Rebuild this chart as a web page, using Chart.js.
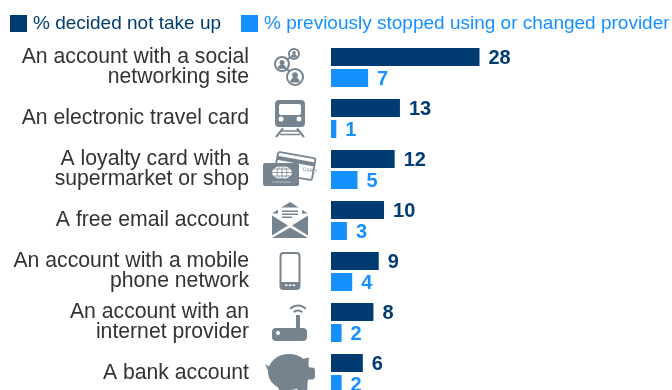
<!DOCTYPE html>
<html>
<head>
<meta charset="utf-8">
<script src="https://cdn.jsdelivr.net/npm/chart.js@4"></script>
<style>
  html, body { margin: 0; padding: 0; background: #fff; overflow: hidden; height: 390px; }
  canvas { display: block; }
</style>
</head>
<body>
<canvas id="chart" width="672" height="399" style="width:672px;height:399px"></canvas>
<script>
const categories = [
  ["An account with a social", "networking site"],
  "An electronic travel card",
  ["A loyalty card with a", "supermarket or shop"],
  "A free email account",
  ["An account with a mobile", "phone network"],
  ["An account with an", "internet provider"],
  "A bank account"
];
const declined = [28, 13, 12, 10, 9, 8, 6];
const stopped = [7, 1, 5, 3, 4, 2, 2];

const DARK = "#003c71";
const LIGHT = "#1490ff";
const GREY = "#76848f";

// value labels next to each bar
const valueLabels = {
  id: "valueLabels",
  afterDatasetsDraw(chart) {
    let ctx = chart.ctx;
    ctx.save();
    ctx.font = "bold 20px 'Liberation Sans'";
    ctx.textBaseline = "middle";
    chart.data.datasets.forEach((ds, i) => {
      ctx.fillStyle = ds.backgroundColor;
      chart.getDatasetMeta(i).data.forEach((bar, j) => {
        ctx.fillText(ds.data[j], bar.x + 9, bar.y + 1);
      });
    });
    ctx.restore();
  }
};

// legend sits at fixed spots, the built-in one can't space it like this
const legendBoxX = [10, 241];
const legendRow = {
  id: "legendRow",
  afterDraw(chart) {
    let ctx = chart.ctx;
    ctx.save();
    ctx.font = "19px 'Liberation Sans'";
    ctx.textBaseline = "middle";
    chart.data.datasets.forEach((ds, i) => {
      ctx.fillStyle = ds.backgroundColor;
      ctx.fillRect(legendBoxX[i], 15, 17, 17);
      ctx.fillText(ds.label, legendBoxX[i] + 23, 23.5);
    });
    ctx.restore();
  }
};

function person(ctx, x, y, r) {
  ctx.fillStyle = "#fff";
  ctx.beginPath();
  ctx.arc(x, y, r, 0, Math.PI * 2);
  ctx.fill();
  ctx.lineWidth = 2;
  ctx.stroke();
  ctx.fillStyle = GREY;
  ctx.beginPath();
  ctx.arc(x, y - r * 0.22, r * 0.36, 0, Math.PI * 2);
  ctx.fill();
  ctx.beginPath();
  ctx.arc(x, y + r * 0.68, r * 0.62, Math.PI, 0);
  ctx.fill();
}

function drawSocial(ctx) {
  ctx.lineWidth = 2;
  ctx.beginPath();
  ctx.moveTo(-8, -3.5);
  ctx.lineTo(4, -13.5);
  ctx.moveTo(-8, -3.5);
  ctx.lineTo(5, 9.5);
  ctx.stroke();
  person(ctx, -8, -3.5, 7);
  person(ctx, 5, 9.5, 8);
  person(ctx, 4, -13.5, 5);
}

function drawTrain(ctx) {
  ctx.beginPath();
  ctx.roundRect(-15, -18.5, 30, 27, 4);
  ctx.fill();
  ctx.fillStyle = "#fff";
  ctx.beginPath();
  ctx.roundRect(-11, -14.5, 22, 11, 2);
  ctx.fill();
  ctx.beginPath(); ctx.arc(-9, 0.5, 2.5, 0, Math.PI * 2); ctx.fill();
  ctx.beginPath(); ctx.arc(9, 0.5, 2.5, 0, Math.PI * 2); ctx.fill();
  ctx.lineWidth = 2;
  ctx.beginPath();
  ctx.moveTo(-7, 10); ctx.lineTo(-14, 18.5);
  ctx.moveTo(7, 10); ctx.lineTo(14, 18.5);
  ctx.stroke();
  ctx.lineWidth = 1.3;
  ctx.beginPath();
  ctx.moveTo(-8, 12.5); ctx.lineTo(8, 12.5);
  ctx.moveTo(-10, 16); ctx.lineTo(10, 16);
  ctx.stroke();
}

function drawCards(ctx) {
  // back card
  ctx.save();
  ctx.translate(5, -3.5);
  ctx.rotate(0.18);
  ctx.beginPath();
  ctx.roundRect(-19, -11, 38, 22, 2);
  ctx.lineWidth = 1.8;
  ctx.fillStyle = "#fff";
  ctx.fill();
  ctx.stroke();
  ctx.fillStyle = GREY;
  ctx.fillRect(-19, -7, 38, 4);
  ctx.font = "5px 'Liberation Sans'";
  ctx.fillText("CARD", 8, 3);
  ctx.restore();
  // front card
  ctx.fillStyle = GREY;
  ctx.beginPath();
  ctx.roundRect(-27, -6.5, 36, 23, 2);
  ctx.fill();
  ctx.fillStyle = "#fff";
  ctx.beginPath();
  ctx.ellipse(-8, 3, 10, 6.5, 0, 0, Math.PI * 2);
  ctx.fill();
  ctx.lineWidth = 0.8;
  ctx.beginPath();
  ctx.moveTo(-18, 3); ctx.lineTo(2, 3);
  ctx.moveTo(-8, -3); ctx.lineTo(-8, 9);
  ctx.moveTo(-16, -0.5); ctx.lineTo(0, -0.5);
  ctx.moveTo(-16, 6.5); ctx.lineTo(0, 6.5);
  ctx.moveTo(-13, 3); ctx.ellipse(-8, 3, 5, 6.5, 0, Math.PI, Math.PI * 3);
  ctx.stroke();
  ctx.strokeStyle = "#c4cbd0";
  ctx.beginPath();
  ctx.moveTo(-18, 12.5); ctx.lineTo(1, 12.5);
  ctx.stroke();
}

function drawMail(ctx) {
  ctx.beginPath();
  ctx.moveTo(0, -18.5); ctx.lineTo(18, -7); ctx.lineTo(-18, -7);
  ctx.closePath();
  ctx.moveTo(-18, -5); ctx.lineTo(-2, 5); ctx.lineTo(-18, 15);
  ctx.closePath();
  ctx.moveTo(18, -5); ctx.lineTo(2, 5); ctx.lineTo(18, 15);
  ctx.closePath();
  ctx.moveTo(-18, 17.5); ctx.lineTo(0, 7); ctx.lineTo(18, 17.5);
  ctx.closePath();
  ctx.fill();
  ctx.fillStyle = "#fff";
  ctx.beginPath();
  ctx.moveTo(-12, -13); ctx.lineTo(12, -13); ctx.lineTo(12, -3);
  ctx.lineTo(0, 4); ctx.lineTo(-12, -3);
  ctx.closePath();
  ctx.fill();
  ctx.fillStyle = GREY;
  ctx.fillRect(-8, -10, 16, 1.5);
  ctx.fillRect(-8, -7, 16, 1.5);
  ctx.fillRect(-8, -4, 10, 1.5);
}

function drawPhone(ctx) {
  ctx.lineWidth = 2;
  ctx.beginPath();
  ctx.roundRect(-9.5, -18.5, 19, 36, 3);
  ctx.stroke();
  ctx.fillRect(-9.5, 10.5, 19, 7);
  ctx.fillStyle = "#fff";
  ctx.fillRect(-5, 13, 2.5, 1.5);
  ctx.fillRect(-1.2, 13, 2.5, 1.5);
  ctx.fillRect(2.6, 13, 2.5, 1.5);
}

function drawRouter(ctx) {
  ctx.beginPath();
  ctx.roundRect(-18, 5.5, 35, 13, 4);
  ctx.fill();
  ctx.fillRect(6, -7.5, 4, 13);
  ctx.lineWidth = 2;
  ctx.beginPath();
  ctx.arc(8, -6, 6, Math.PI * 1.25, Math.PI * 1.75);
  ctx.stroke();
  ctx.beginPath();
  ctx.arc(8, -6, 11, Math.PI * 1.25, Math.PI * 1.75);
  ctx.stroke();
  ctx.fillStyle = "#fff";
  ctx.beginPath();
  ctx.arc(-12, 10.5, 2, 0, Math.PI * 2);
  ctx.fill();
}

function drawPig(ctx) {
  ctx.beginPath();
  ctx.ellipse(-1, -1.5, 21, 18, 0, 0, Math.PI * 2);
  ctx.fill();
  // tail
  ctx.beginPath();
  ctx.moveTo(-25, -9.5); ctx.lineTo(-16, -4); ctx.lineTo(-17, 8);
  ctx.closePath();
  ctx.fill();
  // snout and ear
  ctx.beginPath();
  ctx.roundRect(14, -6, 11, 12, 3);
  ctx.fill();
  ctx.beginPath();
  ctx.moveTo(10, -14); ctx.lineTo(19, -16); ctx.lineTo(18, -5);
  ctx.closePath();
  ctx.fill();
  // legs
  ctx.beginPath();
  ctx.moveTo(-15, 8); ctx.lineTo(2, 8); ctx.lineTo(-1, 20); ctx.lineTo(-9, 20);
  ctx.closePath();
  ctx.moveTo(6, 8); ctx.lineTo(18, 4); ctx.lineTo(17, 20); ctx.lineTo(8, 20);
  ctx.closePath();
  ctx.fill();
}

const icons = [drawSocial, drawTrain, drawCards, drawMail, drawPhone, drawRouter, drawPig];

const iconPlugin = {
  id: "iconPlugin",
  afterDraw(chart) {
    let ctx = chart.ctx;
    let y = chart.scales.y;
    icons.forEach((draw, i) => {
      ctx.save();
      ctx.translate(290, y.getPixelForValue(i));
      ctx.fillStyle = GREY;
      ctx.strokeStyle = GREY;
      draw(ctx);
      ctx.restore();
    });
  }
};

new Chart(document.getElementById("chart"), {
  type: "bar",
  data: {
    labels: categories,
    datasets: [
      { label: "% decided not take up", data: declined, backgroundColor: DARK },
      { label: "% previously stopped using or changed provider", data: stopped, backgroundColor: LIGHT }
    ]
  },
  options: {
    indexAxis: "y",
    responsive: false,
    animation: false,
    categoryPercentage: 0.8235,
    barPercentage: 0.857,
    layout: { padding: { top: 42, right: 0, bottom: 0, left: 0 } },
    plugins: {
      tooltip: { enabled: false },
      legend: { display: false }
    },
    scales: {
      x: { display: false, min: 0, max: 64.3 },
      y: {
        // tickLength pushes the labels left without adding vertical padding
        grid: { display: false, tickLength: 82 },
        border: { display: false },
        afterFit(scale) {
          scale.width = 331;
          scale.paddingTop = 0;
          scale.paddingBottom = 0;
        },
        ticks: {
          color: "#333333",
          padding: 0,
          autoSkip: false,
          font: { family: "Liberation Sans", size: 21.2, lineHeight: 0.945 }
        }
      }
    }
  },
  plugins: [valueLabels, legendRow, iconPlugin]
});
</script>
</body>
</html>
